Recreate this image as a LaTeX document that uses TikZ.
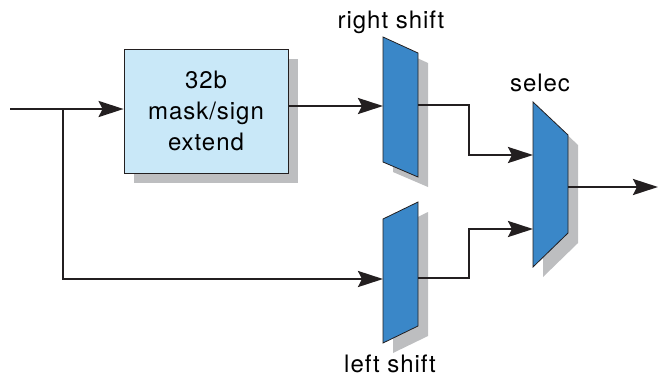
\documentclass[tikz,border=0pt]{standalone}
\usepackage{fontspec}
\newfontfamily\labelfont[LetterSpace=4]{TeX Gyre Heros}
\usetikzlibrary{arrows.meta,calc}

\definecolor{wirecol}{HTML}{231F20}
\definecolor{boxblue}{HTML}{C9E8F8}
\definecolor{muxblue}{HTML}{3A87C8}
\definecolor{shadowgray}{HTML}{BDBEC0}

\begin{document}
\begin{tikzpicture}[x=1pt,y=-1pt,
	wire/.style={draw=wirecol,line width=2.6pt},
	feed/.style={wire,-{Stealth[length=25pt,width=16pt,inset=4pt]}},
	unit/.style={fill=muxblue,draw=wirecol,line width=0.8pt},
	shade/.style={fill=shadowgray},
	tag/.style={font=\labelfont\fontsize{24}{31}\selectfont,inner sep=0pt},
	block/.style={tag,fill=boxblue,draw=wirecol,line width=0.8pt,
		minimum width=164pt,minimum height=124pt,align=center}]
	\useasboundingbox (0,0) rectangle (658,378);

	% mask / sign extend unit
	\fill[shade] (134,59) rectangle (298,183);
	\node[block] (mask) at (206,111) {32b\\mask/sign\\extend};

	% shifters and selector
	\fill[shade,shift={(10,10)}] (383,37) -- (418,53) -- (418,177) -- (383,162) -- cycle;
	\fill[shade,shift={(10,10)}] (383,219) -- (418,202) -- (418,326) -- (383,343) -- cycle;
	\fill[shade,shift={(10,10)}] (533,102) -- (568,135) -- (568,233) -- (533,267) -- cycle;
	\draw[unit] (383,37) -- (418,53) -- (418,177) -- (383,162) -- cycle;
	\draw[unit] (383,219) -- (418,202) -- (418,326) -- (383,343) -- cycle;
	\draw[unit] (533,102) -- (568,135) -- (568,233) -- (533,267) -- cycle;

	\node[tag,anchor=base] (rslabel) at (391,28) {right shift};
	\node[tag,anchor=base] (lslabel) at (390,372) {left shift};
	\node[tag,anchor=base] (sellabel) at (540,91) {selec};

	% ports
	\coordinate (in) at (10,109);
	\coordinate (split) at (63,109);
	\coordinate (rsin) at (383,106);
	\coordinate (rsout) at (418,105);
	\coordinate (lsin) at (383,279);
	\coordinate (lsout) at (418,278);
	\coordinate (selin1) at (533,155);
	\coordinate (selin2) at (533,229);
	\coordinate (selout) at (568,187);
	\coordinate (out) at (658,187);

	\draw[feed] (in) -- (in -| mask.west);
	\draw[feed] (rsin -| mask.east) -- (rsin);
	\draw[feed] (split) |- (lsin);
	\draw[feed] (rsout) -| (469,155) -- (selin1);
	\draw[feed] (lsout) -| (469,229) -- (selin2);
	\draw[feed] (selout) -- (out);
\end{tikzpicture}
\end{document}
